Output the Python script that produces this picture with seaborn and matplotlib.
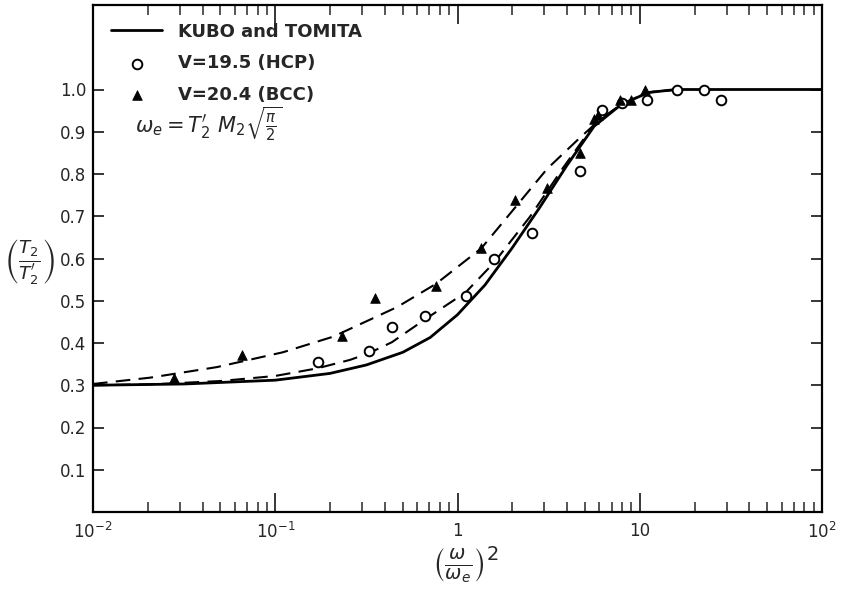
import numpy as np
import pandas as pd
import matplotlib
matplotlib.use("Agg")
import matplotlib.pyplot as plt
import seaborn as sns

# Kubo and Tomita curve (solid)
kt_x = [0.01, 0.0316, 0.1, 0.1995, 0.316, 0.501, 0.708, 1.0, 1.413, 1.995, 2.818, 3.98, 5.62, 7.94, 11.2, 15.85, 100]
kt_y = [0.300, 0.303, 0.312, 0.328, 0.348, 0.378, 0.413, 0.467, 0.537, 0.625, 0.720, 0.820, 0.913, 0.965, 0.993, 1.0, 1.0]

# dashed fit through the BCC points (upper)
bcc_fit_x = [0.01, 0.0206, 0.0479, 0.110, 0.208, 0.466, 0.762, 1.35, 2.02, 3.10, 4.70, 5.68, 7.8, 11, 16]
bcc_fit_y = [0.303, 0.318, 0.343, 0.378, 0.415, 0.485, 0.540, 0.624, 0.715, 0.812, 0.886, 0.918, 0.963, 0.993, 1.0]

# dashed fit through the HCP points (lower)
hcp_fit_x = [0.01, 0.0206, 0.0501, 0.1, 0.17, 0.257, 0.327, 0.437, 0.664, 1.11, 1.585, 2.51, 3.80, 5.68, 7.8, 11, 16]
hcp_fit_y = [0.300, 0.302, 0.310, 0.322, 0.340, 0.360, 0.376, 0.402, 0.456, 0.520, 0.590, 0.700, 0.815, 0.920, 0.963, 0.993, 1.0]

# measured points
hcp_x = [0.172, 0.327, 0.437, 0.664, 1.11, 1.59, 2.56, 4.7, 6.2, 8.0, 11.0, 16, 22.5, 27.9]
hcp_y = [0.355, 0.381, 0.438, 0.464, 0.512, 0.600, 0.660, 0.807, 0.952, 0.969, 0.974, 1.0, 1.0, 0.974]
bcc_x = [0.0278, 0.0658, 0.232, 0.352, 0.762, 1.35, 2.07, 3.1, 4.7, 5.6, 5.9, 7.8, 8.9, 10.7]
bcc_y = [0.317, 0.371, 0.417, 0.507, 0.536, 0.624, 0.738, 0.767, 0.850, 0.930, 0.940, 0.974, 0.976, 0.998]

xticks = [0.01, 0.1, 1, 10, 100]
xtick_labels = [r"$10^{-2}$", r"$10^{-1}$", "1", "10", r"$10^{2}$"]
yticks = [0.1, 0.2, 0.3, 0.4, 0.5, 0.6, 0.7, 0.8, 0.9, 1.0]

sns.set_style("white")
plt.rcParams["font.family"] = ["DejaVu Sans"]

fig = plt.figure(figsize=(8.41, 5.94), dpi=100)
ax = fig.add_axes([93 / 841, 1 - 512 / 594, 729 / 841, 507 / 594])

sns.lineplot(x=kt_x, y=kt_y, color="black", linewidth=2.0, ax=ax, label="KUBO and TOMITA")
sns.lineplot(x=bcc_fit_x, y=bcc_fit_y, color="black", linewidth=1.5, ax=ax,
             linestyle=(0, (7, 4)), label="_nolegend_")
sns.lineplot(x=hcp_fit_x, y=hcp_fit_y, color="black", linewidth=1.5, ax=ax,
             linestyle=(0, (7, 4)), label="_nolegend_")
sns.scatterplot(x=hcp_x, y=hcp_y, marker="o", s=48, facecolor="white", edgecolor="black",
                linewidth=1.4, ax=ax, label="V=19.5 (HCP)", zorder=5)
sns.scatterplot(x=bcc_x, y=bcc_y, marker="^", s=48, color="black", edgecolor="black",
                ax=ax, label="V=20.4 (BCC)", zorder=5)

ax.set_xscale("log")
ax.set_xlim(0.01, 100)
ax.set_ylim(0, 1.2)
ax.set_xticks(xticks)
ax.set_xticklabels(xtick_labels)
ax.set_yticks(yticks)
ax.set_yticklabels([f"{v:.1f}" for v in yticks])
ax.xaxis.set_minor_locator(matplotlib.ticker.LogLocator(base=10, subs=np.arange(2, 10)))
ax.xaxis.set_minor_formatter(matplotlib.ticker.NullFormatter())

ax.tick_params(axis="x", which="major", direction="in", length=14, width=1.3,
               top=True, bottom=True, labelsize=12, pad=7)
ax.tick_params(axis="x", which="minor", direction="in", length=7, width=1.1,
               top=True, bottom=True)
ax.tick_params(axis="y", which="major", direction="in", length=8, width=1.3,
               left=True, right=True, labelsize=12, pad=5)
for sp in ax.spines.values():
    sp.set_linewidth(1.6)
    sp.set_color("black")

ax.set_xlabel("")
ax.set_ylabel("")

leg = ax.legend(loc="upper left", bbox_to_anchor=(0.025, 0.965), frameon=False,
                borderaxespad=0, borderpad=0, handlelength=2.8, handletextpad=0.9,
                labelspacing=0.75, prop={"weight": "bold", "size": 13})

ax.text(0.058, 0.765, r"$\omega_e = T_2^{\prime}\ M_2\sqrt{\frac{\pi}{2}}$",
        transform=ax.transAxes, fontsize=15, va="center", ha="left")

fig.text(30 / 841, 1 - 262 / 594, r"$\left(\frac{T_2}{T_2^{\prime}}\right)$",
         fontsize=19, ha="center", va="center")
fig.text(465 / 841, 1 - 565 / 594, r"$\left(\frac{\omega}{\omega_e}\right)^2$",
         fontsize=20, ha="center", va="center")

fig.savefig("out.png", dpi=100)
